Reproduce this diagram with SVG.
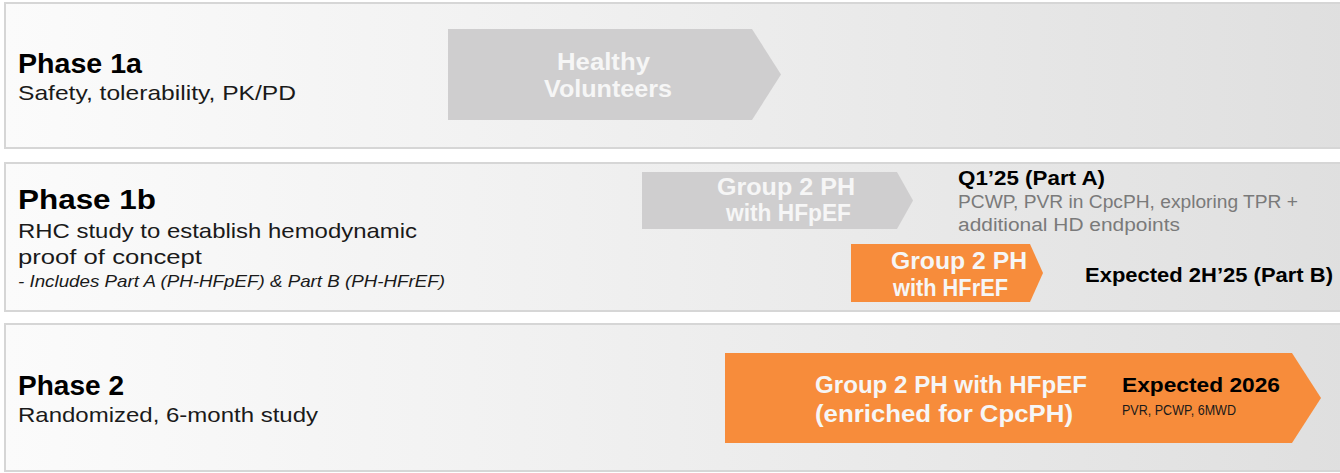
<svg xmlns="http://www.w3.org/2000/svg" width="1340" height="473" viewBox="0 0 1340 473">
  <defs>
    <linearGradient id="panelFill" x1="0" y1="0" x2="1" y2="0">
      <stop offset="0" stop-color="#fbfbfb"/>
      <stop offset="0.5" stop-color="#eeeeee"/>
      <stop offset="1" stop-color="#dfdfdf"/>
    </linearGradient>
    <style>
      .panel { fill: url(#panelFill); stroke: #d6d6d6; stroke-width: 2; }
      .grey { fill: #cfcecf; }
      .orange { fill: #f78c3b; }
      text { font-family: "Liberation Sans", Arial, sans-serif; }
      .title { font-size: 28px; font-weight: 700; fill: #000; }
      .sub { font-size: 21px; fill: #1a1a1a; }
      .note { font-size: 17px; font-style: italic; fill: #1a1a1a; }
      .lbl { font-weight: 700; fill: #f6f6f6; }
      .milestone { font-size: 20px; font-weight: 700; fill: #000; }
      .detail { font-size: 18px; fill: #7a7a7a; }
    </style>
  </defs>
  <rect width="1340" height="473" fill="#ffffff"/>

  <!-- Phase 1a row -->
  <g id="phase1a">
    <rect class="panel" x="5" y="3" width="1345" height="145"/>
    <text class="title" x="18" y="73" textLength="124" lengthAdjust="spacingAndGlyphs">Phase 1a</text>
    <text class="sub" x="18" y="100" textLength="278" lengthAdjust="spacingAndGlyphs">Safety, tolerability, PK/PD</text>
  </g>
  <g id="healthy-volunteers">
    <polygon class="grey" points="448,29 752,29 781,74.5 752,120 448,120"/>
    <text class="lbl" font-size="23"><tspan x="557" y="70" textLength="93" lengthAdjust="spacingAndGlyphs">Healthy</tspan><tspan x="544" y="97" textLength="128" lengthAdjust="spacingAndGlyphs">Volunteers</tspan></text>
  </g>

  <!-- Phase 1b row -->
  <g id="phase1b">
    <rect class="panel" x="5" y="163" width="1345" height="148"/>
    <text class="title" x="18" y="209" font-size="29" textLength="138" lengthAdjust="spacingAndGlyphs">Phase 1b</text>
    <text class="sub"><tspan x="18" y="238" textLength="399" lengthAdjust="spacingAndGlyphs">RHC study to establish hemodynamic</tspan><tspan x="18" y="264" textLength="184" lengthAdjust="spacingAndGlyphs">proof of concept</tspan></text>
    <text class="note" x="18" y="287" textLength="427" lengthAdjust="spacingAndGlyphs">- Includes Part A (PH-HFpEF) &amp; Part B (PH-HFrEF)</text>
  </g>
  <g id="hfpef-part-a">
    <polygon class="grey" points="642,172 897,172 913,200.5 897,229 642,229"/>
    <text class="lbl" font-size="23"><tspan x="717" y="195" textLength="138" lengthAdjust="spacingAndGlyphs">Group 2 PH</tspan><tspan x="726" y="221" textLength="125" lengthAdjust="spacingAndGlyphs">with HFpEF</tspan></text>
    <text class="milestone" x="958" y="185" textLength="147" lengthAdjust="spacingAndGlyphs">Q1’25 (Part A)</text>
    <text class="detail"><tspan x="958" y="208" textLength="340" lengthAdjust="spacingAndGlyphs">PCWP, PVR in CpcPH, exploring TPR +</tspan><tspan x="958" y="231" textLength="222" lengthAdjust="spacingAndGlyphs">additional HD endpoints</tspan></text>
  </g>
  <g id="hfref-part-b">
    <polygon class="orange" points="851,244 1030,244 1043,273 1030,302 851,302"/>
    <text class="lbl" font-size="23"><tspan x="891" y="269" textLength="136" lengthAdjust="spacingAndGlyphs">Group 2 PH</tspan><tspan x="893" y="296" textLength="115" lengthAdjust="spacingAndGlyphs">with HFrEF</tspan></text>
    <text class="milestone" x="1085" y="282" textLength="248" lengthAdjust="spacingAndGlyphs">Expected 2H’25 (Part B)</text>
  </g>

  <!-- Phase 2 row -->
  <g id="phase2">
    <rect class="panel" x="5" y="324" width="1345" height="147"/>
    <text class="title" x="18" y="395" textLength="106" lengthAdjust="spacingAndGlyphs">Phase 2</text>
    <text class="sub" x="18" y="422" textLength="300" lengthAdjust="spacingAndGlyphs">Randomized, 6-month study</text>
  </g>
  <g id="hfpef-cpcph">
    <polygon class="orange" points="725,353 1292,353 1321,398 1292,443 725,443"/>
    <text class="lbl" font-size="24"><tspan x="815" y="393" textLength="272" lengthAdjust="spacingAndGlyphs">Group 2 PH with HFpEF</tspan><tspan x="815" y="422" textLength="258" lengthAdjust="spacingAndGlyphs">(enriched for CpcPH)</tspan></text>
    <text class="milestone" x="1122" y="392" font-size="22" textLength="158" lengthAdjust="spacingAndGlyphs">Expected 2026</text>
    <text x="1122" y="415" font-size="15" fill="#1a1a1a" textLength="114" lengthAdjust="spacingAndGlyphs">PVR, PCWP, 6MWD</text>
  </g>
</svg>
